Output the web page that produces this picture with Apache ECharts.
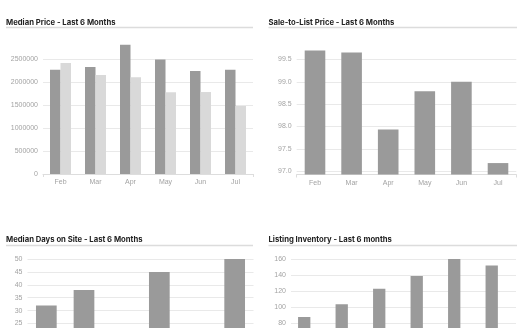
<!DOCTYPE html>
<html>
<head>
<meta charset="utf-8">
<script src="https://cdn.jsdelivr.net/npm/echarts@6/dist/echarts.min.js"></script>
<style>
  html, body { margin: 0; padding: 0; background: #ffffff; overflow: hidden; width: 525px; height: 328px; }
  #chart { width: 525px; height: 400px; }
</style>
</head>
<body>
<div id="chart"></div>
<script>
// Month categories shared by all four panels
const months = ['Feb', 'Mar', 'Apr', 'May', 'Jun', 'Jul'];

// Median Price (this year vs. prior year)
const medianPriceThisYear = [2275000, 2335000, 2825000, 2500000, 2250000, 2275000];
const medianPricePriorYear = [2425000, 2160000, 2115000, 1785000, 1790000, 1485000];

// Sale-to-List Price (%)
const saleToList = [99.70, 99.66, 97.93, 98.79, 99.00, 97.18];

// Median Days on Site
const medianDays = [32, 38, 22, 45, 20, 50];

// Listing Inventory (second slot of the group is empty)
const inventory = [88, 104, 123, 139, 160, 152];
const inventoryComparison = [null, null, null, null, null, null];

// Panel titles
const titles = [
  'Median Price - Last 6 Months',
  'Sale-to-List Price - Last 6 Months',
  'Median Days on Site - Last 6 Months',
  'Listing Inventory - Last 6 months'
];

const DARK = '#9a9a9a';
const LIGHT = '#d9d9d9';
const LABEL = '#a3a3a3';
const GRIDLINE = '#e9e9e9';

// The canvas is taller than the visible page; the lower panels run past the fold.
const chart = echarts.init(document.getElementById('chart'), null, { renderer: 'canvas' });

const titleStyle = {
  fontFamily: 'Inter',
  fontWeight: 700,
  fontSize: 7.7,
  color: '#222222',
  lineHeight: 10
};

function xAxis(gridIndex) {
  return {
    type: 'category',
    gridIndex: gridIndex,
    data: months,
    axisLine: { show: true, lineStyle: { color: '#dddddd', width: 1 } },
    axisTick: { show: true, length: 3, lineStyle: { color: '#dddddd' }, interval: (i) => i === 0 },
    axisLabel: { color: LABEL, fontSize: 7, fontFamily: 'Liberation Sans', margin: 5 },
    splitLine: { show: false }
  };
}

function yAxis(gridIndex, extra) {
  return Object.assign({
    type: 'value',
    gridIndex: gridIndex,
    axisLine: { show: false },
    axisTick: { show: false },
    axisLabel: { color: LABEL, fontSize: 7, fontFamily: 'Liberation Sans', margin: 5 },
    splitLine: { show: true, lineStyle: { color: GRIDLINE, width: 1 } }
  }, extra);
}

const option = {
  animation: false,
  backgroundColor: '#ffffff',
  title: [
    { text: titles[0], left: 6, top: 17.5, padding: 0, textStyle: titleStyle },
    { text: titles[1], left: 268.5, top: 17.5, padding: 0, textStyle: titleStyle },
    { text: titles[2], left: 6, top: 235, padding: 0, textStyle: titleStyle },
    { text: titles[3], left: 268.5, top: 235, padding: 0, textStyle: titleStyle }
  ],
  graphic: [
    { type: 'line', shape: { x1: 6, y1: 27.5, x2: 253, y2: 27.5 }, style: { stroke: '#dcdcdc', lineWidth: 1.5 } },
    { type: 'line', shape: { x1: 268.5, y1: 27.5, x2: 517, y2: 27.5 }, style: { stroke: '#dcdcdc', lineWidth: 1.5 } },
    { type: 'line', shape: { x1: 6, y1: 245.5, x2: 253, y2: 245.5 }, style: { stroke: '#dcdcdc', lineWidth: 1.5 } },
    { type: 'line', shape: { x1: 268.5, y1: 245.5, x2: 517, y2: 245.5 }, style: { stroke: '#dcdcdc', lineWidth: 1.5 } }
  ],
  grid: [
    { left: 43, width: 210, top: 42, height: 132 },
    { left: 296.7, width: 219.6, top: 42, height: 132.5 },
    { left: 27.5, width: 226, top: 259, height: 132.6 },
    { left: 291, width: 225, top: 259, height: 132.6 }
  ],
  xAxis: [xAxis(0), xAxis(1), xAxis(2), xAxis(3)],
  yAxis: [
    yAxis(0, {
      min: 0, max: 2883000,
      axisLabel: { color: LABEL, fontSize: 7, fontFamily: 'Liberation Sans', margin: 5, showMaxLabel: false, formatter: (v) => String(v) },
      splitLine: { show: true, showMaxLine: false, lineStyle: { color: GRIDLINE, width: 1 } }
    }),
    yAxis(1, {
      min: 96.924, max: 99.893,
      axisLabel: { color: LABEL, fontSize: 7, fontFamily: 'Liberation Sans', margin: 5, showMinLabel: false, showMaxLabel: false, formatter: (v) => v.toFixed(1) },
      splitLine: { show: true, showMinLine: false, showMaxLine: false, lineStyle: { color: GRIDLINE, width: 1 } }
    }),
    yAxis(2, { min: 0, max: 50, interval: 5 }),
    yAxis(3, { min: 0, max: 160, interval: 20 })
  ],
  series: [
    { name: 'This Year', type: 'bar', xAxisIndex: 0, yAxisIndex: 0, data: medianPriceThisYear,
      barWidth: 10.5, barGap: '0%', itemStyle: { color: DARK } },
    { name: 'Prior Year', type: 'bar', xAxisIndex: 0, yAxisIndex: 0, data: medianPricePriorYear,
      barWidth: 10.5, barGap: '0%', itemStyle: { color: LIGHT } },
    { name: 'Sale-to-List', type: 'bar', xAxisIndex: 1, yAxisIndex: 1, data: saleToList,
      barWidth: 20.6, itemStyle: { color: DARK } },
    { name: 'Median Days', type: 'bar', xAxisIndex: 2, yAxisIndex: 2, data: medianDays,
      barWidth: 20.7, itemStyle: { color: DARK } },
    { name: 'Inventory', type: 'bar', xAxisIndex: 3, yAxisIndex: 3, data: inventory,
      barWidth: 12.3, barGap: '-10%', itemStyle: { color: DARK } },
    { name: 'Inventory Comparison', type: 'bar', xAxisIndex: 3, yAxisIndex: 3, data: inventoryComparison,
      barWidth: 12.3, barGap: '-10%', itemStyle: { color: LIGHT } }
  ]
};

chart.setOption(option);
</script>
</body>
</html>
